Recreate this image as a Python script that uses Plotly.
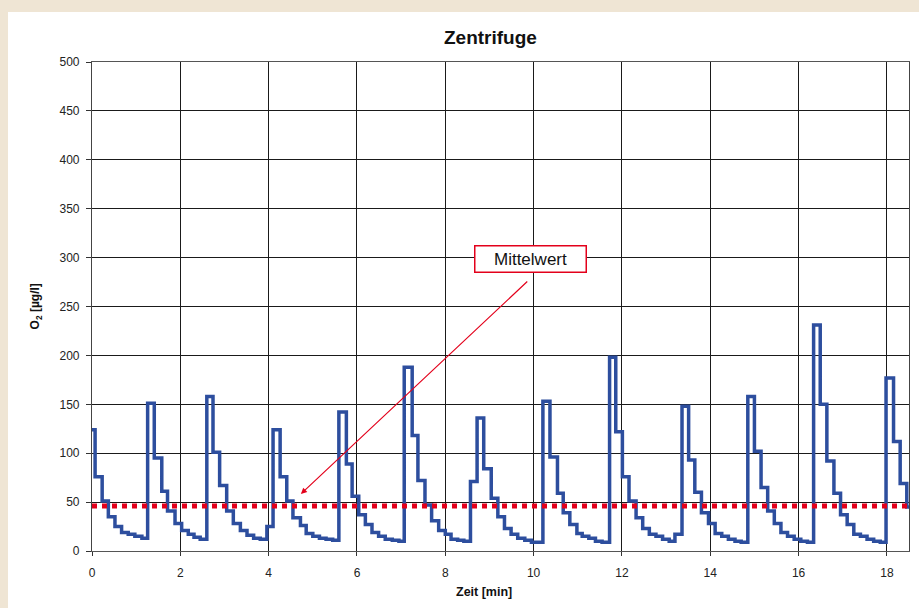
import plotly.graph_objects as go

# Step-wise O2 readings (time in min, value in µg/l)
zeit = [0.00, 0.07, 0.23, 0.37, 0.52, 0.67, 0.82, 0.97, 1.13,
        1.26, 1.41, 1.58, 1.71, 1.88, 2.03, 2.18, 2.31, 2.45,
        2.60, 2.74, 2.89, 3.05, 3.20, 3.36, 3.51, 3.66, 3.81,
        3.96, 4.10, 4.26, 4.41, 4.55, 4.72, 4.85, 5.00, 5.15, 5.30, 5.45,
        5.59, 5.76, 5.89, 6.04, 6.19, 6.34, 6.49, 6.64, 6.80, 6.95,
        7.07, 7.25, 7.38, 7.54, 7.69, 7.85, 8.00, 8.13, 8.28, 8.42,
        8.57, 8.72, 8.87, 9.04, 9.19, 9.34, 9.49, 9.64, 9.80, 9.95,
        10.21, 10.37, 10.54, 10.67, 10.82, 10.98, 11.10, 11.25, 11.40, 11.55,
        11.72, 11.86, 12.01, 12.16, 12.32, 12.47, 12.62, 12.77, 12.92, 13.07, 13.20,
        13.36, 13.51, 13.65, 13.80, 13.96, 14.11, 14.26, 14.41, 14.56, 14.70,
        14.85, 15.00, 15.15, 15.30, 15.45, 15.60, 15.75, 15.90, 16.05, 16.20,
        16.34, 16.49, 16.64, 16.80, 16.95, 17.10, 17.25, 17.40, 17.55, 17.70, 17.85,
        17.98, 18.15, 18.30, 18.45, 18.50]
o2 = [124, 76, 51, 35, 25, 19, 17, 15, 13,
      151, 95, 61, 41, 28, 21, 17, 14, 12,
      158, 101, 67, 41, 28, 21, 16, 13, 12,
      25, 124, 76, 51, 34, 26, 18, 15, 13, 12, 11,
      142, 89, 56, 37, 27, 19, 15, 12, 11, 10,
      188, 118, 72, 47, 31, 21, 17, 12, 11, 10,
      71, 136, 84, 54, 35, 23, 17, 13, 11, 9,
      153, 96, 59, 39, 27, 18, 15, 13, 10, 9,
      198, 122, 76, 51, 34, 23, 17, 15, 12, 10, 17,
      148, 93, 60, 39, 28, 18, 15, 12, 10, 9,
      158, 102, 65, 41, 28, 19, 15, 12, 10, 9,
      231, 150, 92, 59, 37, 27, 17, 15, 12, 10, 9,
      177, 112, 69, 45, 45]

mittelwert = 46
mittel_x = [0, 18.5]

title_text = "Zentrifuge"
x_title = "Zeit [min]"
y_title = "O<sub>2</sub> [µg/l]"
label_text = "Mittelwert"

FONT = "Liberation Sans, Arial, sans-serif"
RED = "#E3001B"
BLUE = "#2D4E9E"

fig = go.Figure()
fig.add_trace(go.Scatter(x=zeit, y=o2, mode="lines", line=dict(color=BLUE, width=3.5, shape="hv"),
                         showlegend=False, hoverinfo="skip"))
fig.add_trace(go.Scatter(x=mittel_x, y=[mittelwert] * len(mittel_x), mode="lines",
                         line=dict(color=RED, width=5, dash="dot"), showlegend=False, hoverinfo="skip"))

# white sheet on beige page
fig.add_shape(type="rect", xref="paper", yref="paper", x0=-0.1028, x1=1.02, y0=-0.12, y1=1.1022,
              fillcolor="white", line_width=0, layer="below")

fig.update_layout(
    width=919, height=608,
    margin=dict(l=92, r=10, t=62, b=57),
    paper_bgcolor="#EFE5D4",
    plot_bgcolor="white",
    font=dict(family=FONT, size=12, color="#222"),
    annotations=[
        dict(text="<b>" + title_text + "</b>", xref="paper", yref="paper", x=0.488, y=1.051,
             showarrow=False, font=dict(size=19, color="#111", family=FONT), xanchor="center", yanchor="middle"),
        dict(text="<b>" + x_title + "</b>", xref="paper", yref="paper", x=0.48, y=-0.0838,
             showarrow=False, font=dict(size=12.5, color="#111", family=FONT), xanchor="center", yanchor="middle"),
        dict(text="<b>" + y_title + "</b>", xref="paper", yref="paper", x=-0.068, y=0.501, textangle=-90,
             showarrow=False, font=dict(size=12, color="#111", family=FONT), xanchor="center", yanchor="middle"),
        dict(text="", x=4.73, y=58.3, ax=9.89, ay=277, axref="x", ayref="y", xref="x", yref="y",
             showarrow=True, arrowhead=2, arrowsize=1, arrowwidth=1.2, arrowcolor=RED, standoff=0),
        dict(text=label_text, x=9.93, y=298.6, xref="x", yref="y", showarrow=False,
             font=dict(size=17, color="#111", family=FONT), bgcolor="white", bordercolor=RED,
             borderwidth=1.5, borderpad=3, width=104, xanchor="center", yanchor="middle"),
    ],
)
fig.update_xaxes(range=[0, 18.5], tick0=0, dtick=2, showgrid=True, gridcolor="#1a1a1a", gridwidth=1,
                 showline=True, linecolor="#555", linewidth=1.2, mirror=True,
                 ticks="outside", ticklen=4, tickcolor="#333", ticklabelstandoff=6, zeroline=False,
                 tickfont=dict(size=12, color="#222"))
fig.update_yaxes(range=[0, 500], tick0=0, dtick=50, showgrid=True, gridcolor="#1a1a1a", gridwidth=1,
                 showline=True, linecolor="#444", linewidth=1.2, mirror=True,
                 ticks="outside", ticklen=5, tickcolor="#333", ticklabelstandoff=4, zeroline=False,
                 tickfont=dict(size=12, color="#222"))

fig.write_html("out.html", config={"displayModeBar": False},
               post_script="document.body.style.margin='0';")
